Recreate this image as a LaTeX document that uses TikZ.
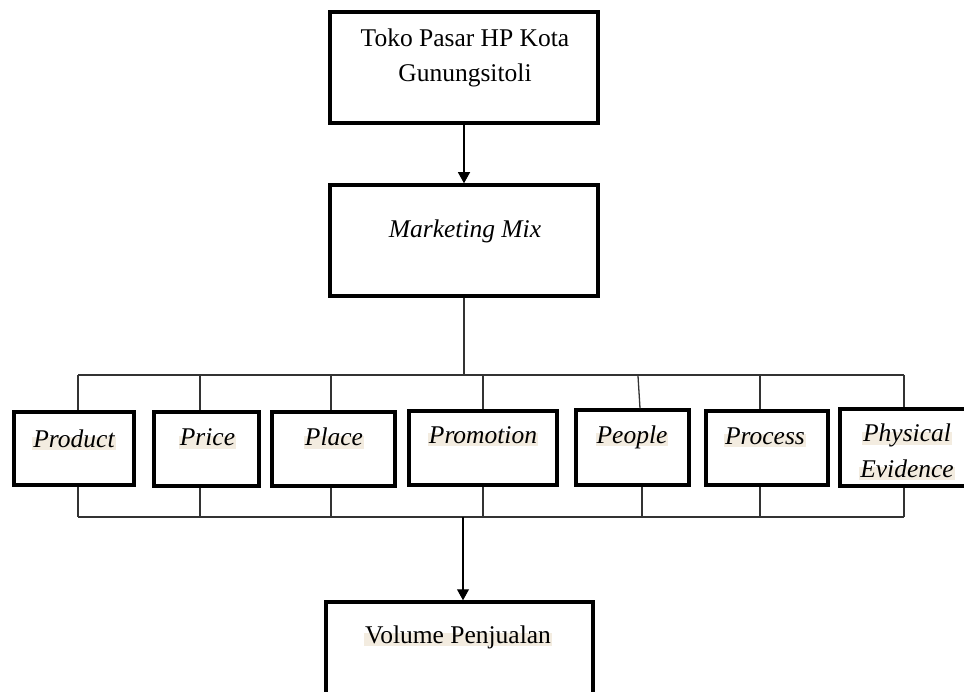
\documentclass[tikz,border=0pt]{standalone}
\usepackage{fontspec}
\setmainfont{Liberation Serif}
\usetikzlibrary{arrows.meta}
\definecolor{hl}{HTML}{F3ECE0}
\definecolor{ln}{HTML}{333333}
\tikzset{
  box/.style={draw=black, line width=3.5pt, fill=none, inner sep=0pt},
  lbl/.style={font=\fontsize{25.5}{37}\selectfont, inner sep=0pt, anchor=base},
  hlbl/.style={font=\fontsize{25.5}{37}\selectfont\itshape, fill=hl, anchor=base, inner xsep=1pt, inner ysep=1.5pt, text height=0.85em, text depth=0.18em},
  conn/.style={draw=ln, line width=1.3pt},
  arr/.style={draw=black, line width=1.1pt, -{Triangle[length=11pt,width=12pt]}}
}
\begin{document}
\begin{tikzpicture}[x=1pt,y=-1pt]
\useasboundingbox (0,0) rectangle (964,692);
% boxes
\node[box, minimum width=268pt, minimum height=111pt] (top) at (464,67.5) {};
\node[box, minimum width=268pt, minimum height=111pt] (mm) at (464,240.5) {};
\node[box, minimum width=120pt, minimum height=73pt] (prod) at (74,448.5) {};
\node[box, minimum width=105pt, minimum height=74pt] (price) at (206.5,449) {};
\node[box, minimum width=123pt, minimum height=74pt] (place) at (333.5,449) {};
\node[box, minimum width=148pt, minimum height=74pt] (promo) at (483,448) {};
\node[box, minimum width=113pt, minimum height=75pt] (people) at (632.5,447.5) {};
\node[box, minimum width=122pt, minimum height=74pt] (proc) at (767,448) {};
\node[box, minimum width=128pt, minimum height=77pt] (phys) at (904,447.5) {};
\node[box, minimum width=267pt, minimum height=116pt] (vol) at (459.5,660) {};
% texts
\node[lbl] (ttop1) at (465,47) {Toko Pasar HP Kota};
\node[lbl] (ttop2) at (465,82) {Gunungsitoli};
\node[lbl, font=\fontsize{25.5}{37}\selectfont\itshape] (tmm) at (465,238) {Marketing Mix};
\node[hlbl] (tprod) at (74,447) {Product};
\node[hlbl] (tprice) at (207.5,446) {Price};
\node[hlbl] (tplace) at (334,446) {Place};
\node[hlbl] (tpromo) at (483,443) {Promotion};
\node[hlbl] (tpeople) at (632,443) {People};
\node[hlbl] (tproc) at (765,444) {Process};
\node[hlbl] (tphys1) at (907,442) {Physical};
\node[hlbl] (tphys2) at (907,477) {Evidence};
\node[hlbl, font=\fontsize{25.5}{37}\selectfont] (tvol) at (458,643) {Volume Penjualan};
% bus coordinates
\coordinate (tbL) at (78,375);
\coordinate (tbR) at (904,375);
\coordinate (tbM) at (464,375);
\coordinate (bbL) at (78,517);
\coordinate (bbR) at (904,517);
\coordinate (bbM) at (463,517);
% arrow top -> mm
\draw[arr] (top.south) -- (mm.north);
% mm to top bus
\draw[conn] (mm.south) -- (tbM);
\draw[conn] (tbL) -- (tbR);
\draw[conn] (bbL) -- (bbR);
% drops to boxes
\draw[conn] (tbL) -- (tbL |- prod.north);
\draw[conn] (200,375) -- (200,0 |- price.north);
\draw[conn] (331,375) -- (331,0 |- place.north);
\draw[conn] (483,375) -- (promo.north);
\draw[conn] (638,376) -- (640,0 |- people.north);
\draw[conn] (760,375) -- (760,0 |- proc.north);
\draw[conn] (tbR) -- (tbR |- phys.north);
% rises from boxes
\draw[conn] (bbL |- prod.south) -- (bbL);
\draw[conn] (200,0 |- price.south) -- (200,517);
\draw[conn] (331,0 |- place.south) -- (331,517);
\draw[conn] (promo.south) -- (483,517);
\draw[conn] (642,0 |- people.south) -- (642,517);
\draw[conn] (760,0 |- proc.south) -- (760,517);
\draw[conn] (bbR |- phys.south) -- (bbR);
% arrow to volume
\draw[arr] (bbM) -- (bbM |- vol.north);
\end{tikzpicture}
\end{document}
